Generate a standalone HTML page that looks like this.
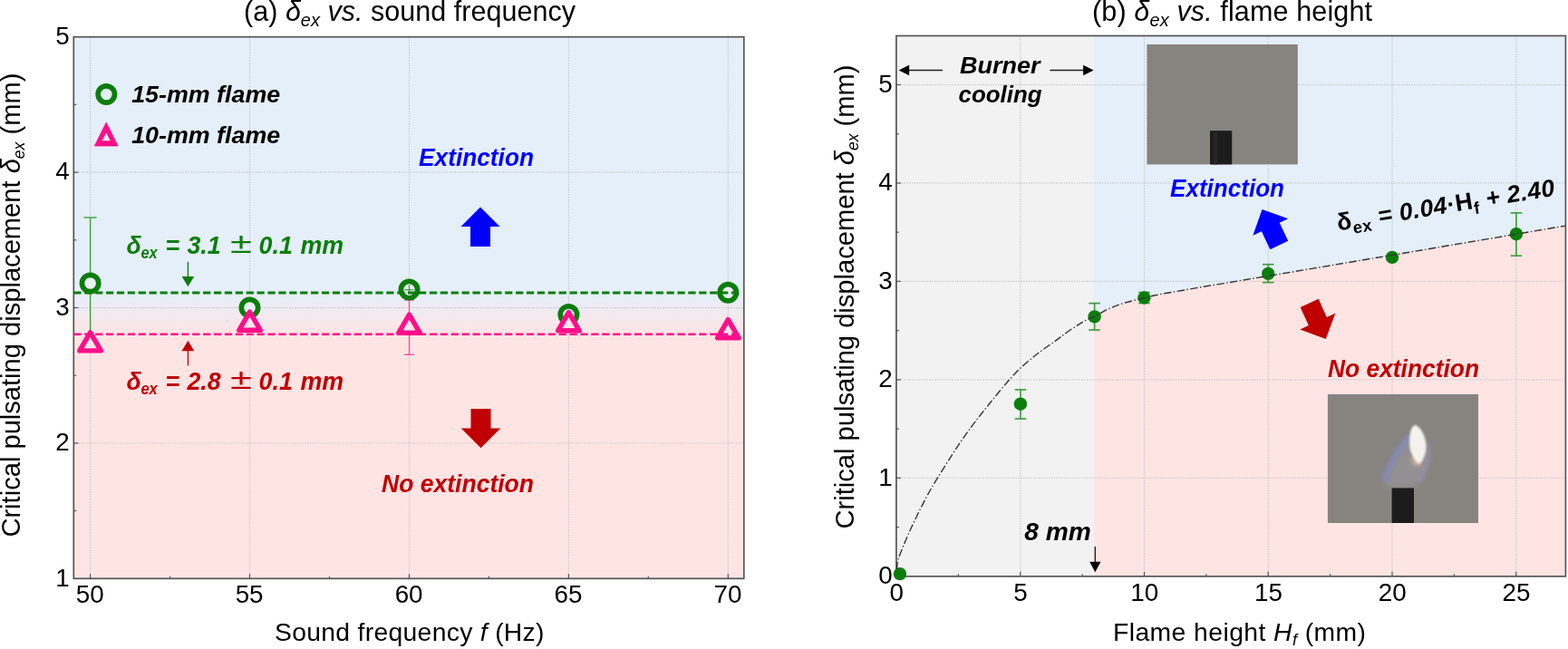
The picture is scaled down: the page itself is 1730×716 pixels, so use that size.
<!DOCTYPE html>
<html lang="en">
<head>
<meta charset="utf-8">
<title>Critical pulsating displacement</title>
<style>
html,body{margin:0;padding:0;background:#ffffff;}
body{width:1730px;height:716px;overflow:hidden;}
svg{display:block;filter:blur(0.45px);}
text{font-family:"Liberation Sans",sans-serif;fill:#000;}
.bi{font-weight:bold;font-style:italic;}
.b{font-weight:bold;}
.i{font-style:italic;}
</style>
</head>
<body>
<svg width="1730" height="716" viewBox="0 0 1730 716">
<defs>
<linearGradient id="gA" x1="0" y1="0" x2="0" y2="1">
<stop offset="0" stop-color="#e5eff9"/>
<stop offset="0.475" stop-color="#e5eff9"/>
<stop offset="0.55" stop-color="#ffe4e4"/>
<stop offset="1" stop-color="#ffe4e4"/>
</linearGradient>
<filter id="blur1" x="-20%" y="-20%" width="140%" height="140%"><feGaussianBlur stdDeviation="0.7"/></filter>
<filter id="blur2" x="-50%" y="-50%" width="200%" height="200%"><feGaussianBlur stdDeviation="2"/></filter>
<filter id="blur15" x="-50%" y="-50%" width="200%" height="200%"><feGaussianBlur stdDeviation="1.3"/></filter>
<filter id="blur3" x="-50%" y="-50%" width="200%" height="200%"><feGaussianBlur stdDeviation="3.5"/></filter>
<clipPath id="clipB"><rect x="988.9" y="39.5" width="738.5000000000001" height="596.35"/></clipPath>
<clipPath id="clipP2"><rect x="1464.7" y="434.7" width="166.3" height="142.4"/></clipPath>
</defs>

<g id="panelA">
<rect x="81.3" y="40.7" width="739.5" height="597.5999999999999" fill="url(#gA)"/>
<line x1="99.6" y1="40.7" x2="99.6" y2="638.3" stroke="#b8b8b8" stroke-width="0.9" stroke-dasharray="1.6 1.2" stroke-opacity="0.8"/>
<line x1="275.5" y1="40.7" x2="275.5" y2="638.3" stroke="#b8b8b8" stroke-width="0.9" stroke-dasharray="1.6 1.2" stroke-opacity="0.8"/>
<line x1="451.5" y1="40.7" x2="451.5" y2="638.3" stroke="#b8b8b8" stroke-width="0.9" stroke-dasharray="1.6 1.2" stroke-opacity="0.8"/>
<line x1="627.4" y1="40.7" x2="627.4" y2="638.3" stroke="#b8b8b8" stroke-width="0.9" stroke-dasharray="1.6 1.2" stroke-opacity="0.8"/>
<line x1="803.3" y1="40.7" x2="803.3" y2="638.3" stroke="#b8b8b8" stroke-width="0.9" stroke-dasharray="1.6 1.2" stroke-opacity="0.8"/>
<line x1="81.3" y1="488.9" x2="820.8" y2="488.9" stroke="#b8b8b8" stroke-width="0.9" stroke-dasharray="1.6 1.2" stroke-opacity="0.8"/>
<line x1="81.3" y1="339.5" x2="820.8" y2="339.5" stroke="#b8b8b8" stroke-width="0.9" stroke-dasharray="1.6 1.2" stroke-opacity="0.8"/>
<line x1="81.3" y1="190.1" x2="820.8" y2="190.1" stroke="#b8b8b8" stroke-width="0.9" stroke-dasharray="1.6 1.2" stroke-opacity="0.8"/>
<line x1="99.6" y1="638.3" x2="99.6" y2="633.3" stroke="#555555" stroke-width="1.2"/>
<line x1="275.5" y1="638.3" x2="275.5" y2="633.3" stroke="#555555" stroke-width="1.2"/>
<line x1="451.5" y1="638.3" x2="451.5" y2="633.3" stroke="#555555" stroke-width="1.2"/>
<line x1="627.4" y1="638.3" x2="627.4" y2="633.3" stroke="#555555" stroke-width="1.2"/>
<line x1="803.3" y1="638.3" x2="803.3" y2="633.3" stroke="#555555" stroke-width="1.2"/>
<line x1="187.6" y1="638.3" x2="187.6" y2="635.8" stroke="#555555" stroke-width="1.2"/>
<line x1="363.5" y1="638.3" x2="363.5" y2="635.8" stroke="#555555" stroke-width="1.2"/>
<line x1="539.4" y1="638.3" x2="539.4" y2="635.8" stroke="#555555" stroke-width="1.2"/>
<line x1="715.3" y1="638.3" x2="715.3" y2="635.8" stroke="#555555" stroke-width="1.2"/>
<line x1="81.3" y1="488.9" x2="86.3" y2="488.9" stroke="#555555" stroke-width="1.2"/>
<line x1="81.3" y1="339.5" x2="86.3" y2="339.5" stroke="#555555" stroke-width="1.2"/>
<line x1="81.3" y1="190.1" x2="86.3" y2="190.1" stroke="#555555" stroke-width="1.2"/>
<line x1="81.3" y1="563.6" x2="84.3" y2="563.6" stroke="#555555" stroke-width="1.2"/>
<line x1="81.3" y1="414.2" x2="84.3" y2="414.2" stroke="#555555" stroke-width="1.2"/>
<line x1="81.3" y1="264.8" x2="84.3" y2="264.8" stroke="#555555" stroke-width="1.2"/>
<line x1="81.3" y1="115.4" x2="84.3" y2="115.4" stroke="#555555" stroke-width="1.2"/>
<rect x="81.3" y="40.7" width="739.5" height="597.5999999999999" fill="none" stroke="#555555" stroke-width="1.7"/>
<line x1="99.6" y1="240.0" x2="99.6" y2="372.0" stroke="#3f9f3f" stroke-width="1.4"/><line x1="92.6" y1="240.0" x2="106.6" y2="240.0" stroke="#3f9f3f" stroke-width="1.4"/>
<line x1="451.5" y1="331.0" x2="451.5" y2="391.3" stroke="#ff4fa8" stroke-width="1.4"/><line x1="446.0" y1="331.0" x2="457.0" y2="331.0" stroke="#ff4fa8" stroke-width="1.4"/><line x1="446.0" y1="391.3" x2="457.0" y2="391.3" stroke="#ff4fa8" stroke-width="1.4"/>
<circle cx="99.6" cy="312.5" r="9.15" fill="#e9f0f6" stroke="#0b7d0b" stroke-width="5.7"/>
<circle cx="275.5" cy="339.5" r="9.15" fill="#e9f0f6" stroke="#0b7d0b" stroke-width="5.7"/>
<circle cx="451.5" cy="319.6" r="9.15" fill="#e9f0f6" stroke="#0b7d0b" stroke-width="5.7"/>
<path d="M451.5 314.6 V324.6 M446.5 319.6 H456.5" stroke="#3f9f3f" stroke-width="1.3" fill="none"/>
<circle cx="627.4" cy="347" r="9.15" fill="#e9f0f6" stroke="#0b7d0b" stroke-width="5.7"/>
<circle cx="803.3" cy="322.8" r="9.15" fill="#e9f0f6" stroke="#0b7d0b" stroke-width="5.7"/>
<path d="M99.6 366.8 L111.4 386.9 L87.8 386.9 Z" fill="#fbe6ea" stroke="#ff0f8a" stroke-width="5.4" stroke-linejoin="round"/>
<path d="M275.5 344.2 L287.3 364.3 L263.7 364.3 Z" fill="#fbe6ea" stroke="#ff0f8a" stroke-width="5.4" stroke-linejoin="round"/>
<path d="M451.5 347.2 L463.3 367.3 L439.7 367.3 Z" fill="#fbe6ea" stroke="#ff0f8a" stroke-width="5.4" stroke-linejoin="round"/>
<path d="M627.4 344.7 L639.2 364.8 L615.6 364.8 Z" fill="#fbe6ea" stroke="#ff0f8a" stroke-width="5.4" stroke-linejoin="round"/>
<path d="M803.3 352.7 L815.1 372.8 L791.5 372.8 Z" fill="#fbe6ea" stroke="#ff0f8a" stroke-width="5.4" stroke-linejoin="round"/>
<line x1="81.3" y1="323.1" x2="818.8" y2="323.1" stroke="#0b7d0b" stroke-width="3" stroke-dasharray="8.3 3.595"/>
<line x1="81.3" y1="368.8" x2="818.8" y2="368.8" stroke="#ff0f8a" stroke-width="2.6" stroke-dasharray="8.3 3.595"/>
<circle cx="117.3" cy="104" r="9.15" fill="none" stroke="#0b7d0b" stroke-width="5.7"/>
<path fill-rule="evenodd" d="M117.2 135.1 L130.1 161.0 L104.3 161.0 Z M117.2 145.7 L112.2 155.7 L122.2 155.7 Z" fill="#ff0f8a" stroke="#ff0f8a" stroke-width="0.8" stroke-linejoin="round"/>
<text class="bi" x="145.2" y="113.3" font-size="26.4" textLength="164" lengthAdjust="spacingAndGlyphs">15-mm flame</text>
<text class="bi" x="145.2" y="158.3" font-size="26.4" textLength="164" lengthAdjust="spacingAndGlyphs">10-mm flame</text>
<text class="bi" x="462" y="183.1" font-size="27" style="fill:#0000ff" textLength="127" lengthAdjust="spacingAndGlyphs">Extinction</text>
<text class="bi" x="421" y="542.5" font-size="27" style="fill:#c00000" textLength="168" lengthAdjust="spacingAndGlyphs">No extinction</text>
<path d="M530 228.5 L551.5 250 L541 250 L541 272 L519 272 L519 250 L508.5 250 Z" fill="#0000ff"/>
<path d="M530.5 494.3 L552.3 472.5 L541.5 472.5 L541.5 451 L519.5 451 L519.5 472.5 L508.7 472.5 Z" fill="#c00000"/>
<text class="bi" y="280" font-size="26.8" style="fill:#0b7d0b"><tspan x="139.6">δ</tspan><tspan x="155.4" dy="5.3" font-size="18.5" textLength="18.3" lengthAdjust="spacingAndGlyphs">ex</tspan><tspan x="182.6" dy="-5.3">=</tspan><tspan x="206.4">3.1</tspan><tspan x="254" font-size="31" dy="-1" style="font-weight:normal;font-style:italic" textLength="24" lengthAdjust="spacingAndGlyphs">±</tspan><tspan x="285.6" dy="1">0.1</tspan><tspan x="331.5">mm</tspan></text>
<text class="bi" y="430" font-size="26.8" style="fill:#c00000"><tspan x="139.6">δ</tspan><tspan x="155.4" dy="5.3" font-size="18.5" textLength="18.3" lengthAdjust="spacingAndGlyphs">ex</tspan><tspan x="182.6" dy="-5.3">=</tspan><tspan x="206.4">2.8</tspan><tspan x="254" font-size="31" dy="-1" style="font-weight:normal;font-style:italic" textLength="24" lengthAdjust="spacingAndGlyphs">±</tspan><tspan x="285.6" dy="1">0.1</tspan><tspan x="331.5">mm</tspan></text>
<line x1="207.4" y1="288.8" x2="207.4" y2="306" stroke="#0b7d0b" stroke-width="1.3"/><path d="M200.6 304.9 L214.2 304.9 L207.4 316.3 Z" fill="#0b7d0b"/>
<line x1="207.4" y1="386" x2="207.4" y2="403.5" stroke="#c00000" stroke-width="1.3"/><path d="M200.6 387.3 L214.2 387.3 L207.4 375.8 Z" fill="#c00000"/>
<text x="99.2" y="664.9" font-size="27.8" text-anchor="middle">50</text>
<text x="275.1" y="664.9" font-size="27.8" text-anchor="middle">55</text>
<text x="451.1" y="664.9" font-size="27.8" text-anchor="middle">60</text>
<text x="627.0" y="664.9" font-size="27.8" text-anchor="middle">65</text>
<text x="802.9" y="664.9" font-size="27.8" text-anchor="middle">70</text>
<text x="76.6" y="647.3" font-size="27.8" text-anchor="end">1</text>
<text x="76.6" y="497.4" font-size="27.8" text-anchor="end">2</text>
<text x="76.6" y="347.7" font-size="27.8" text-anchor="end">3</text>
<text x="76.6" y="198.0" font-size="27.8" text-anchor="end">4</text>
<text x="76.6" y="48.8" font-size="27.8" text-anchor="end">5</text>
<text x="303" y="707.4" font-size="28.3" textLength="297.5" lengthAdjust="spacing">Sound frequency <tspan class="i">f</tspan> (Hz)</text>
<text x="269" y="23" font-size="30.5" textLength="366" lengthAdjust="spacing">(a) <tspan class="i">δ<tspan font-size="20" dy="6">ex</tspan><tspan dy="-6"> vs.</tspan></tspan> sound frequency</text>
<text transform="translate(22.4 592.6) rotate(-90)" font-size="29.8" textLength="512" lengthAdjust="spacingAndGlyphs">Critical pulsating displacement <tspan class="i">δ<tspan font-size="18" dy="5">ex</tspan></tspan><tspan dy="-5"> (mm)</tspan></text>
</g>
<g id="panelB">
<rect x="988.9" y="39.5" width="218.1" height="596.35" fill="#f2f2f2"/>
<rect x="1207.0" y="39.5" width="520.4" height="596.35" fill="#e5eff9"/>
<path d="M1207.0 349.3 L1208.1 348.8 C1210.6 347.4 1217.7 343.1 1223.1 340.7 C1228.5 338.3 1234.0 336.3 1240.5 334.3 C1247.0 332.3 1255.7 330.2 1262.4 328.6 C1269.1 327.0 1274.0 325.9 1280.9 324.5 C1287.8 323.1 1296.3 321.9 1304.0 320.5 C1311.7 319.1 1319.5 317.7 1327.2 316.4 C1334.9 315.1 1342.6 313.9 1350.3 312.6 C1358.0 311.3 1365.7 310.0 1373.4 308.7 C1381.1 307.4 1383.7 307.0 1396.5 304.9 C1409.3 302.8 1426.8 299.8 1450.0 295.9 C1473.2 292.0 1511.0 285.6 1536.0 281.4 C1561.0 277.2 1577.2 274.5 1600.0 270.6 C1622.8 266.8 1651.7 261.9 1672.9 258.3 C1694.1 254.7 1718.3 250.6 1727.4 249.1 L1727.4 635.85 L1207.0 635.85 Z" fill="#ffe4e4"/>
<line x1="1125.8" y1="39.5" x2="1125.8" y2="635.85" stroke="#b8b8b8" stroke-width="0.9" stroke-dasharray="1.6 1.2" stroke-opacity="0.8"/>
<line x1="1262.5" y1="39.5" x2="1262.5" y2="635.85" stroke="#b8b8b8" stroke-width="0.9" stroke-dasharray="1.6 1.2" stroke-opacity="0.8"/>
<line x1="1399.2" y1="39.5" x2="1399.2" y2="635.85" stroke="#b8b8b8" stroke-width="0.9" stroke-dasharray="1.6 1.2" stroke-opacity="0.8"/>
<line x1="1536.0" y1="39.5" x2="1536.0" y2="635.85" stroke="#b8b8b8" stroke-width="0.9" stroke-dasharray="1.6 1.2" stroke-opacity="0.8"/>
<line x1="1672.8" y1="39.5" x2="1672.8" y2="635.85" stroke="#b8b8b8" stroke-width="0.9" stroke-dasharray="1.6 1.2" stroke-opacity="0.8"/>
<line x1="988.9" y1="527.3" x2="1727.4" y2="527.3" stroke="#b8b8b8" stroke-width="0.9" stroke-dasharray="1.6 1.2" stroke-opacity="0.8"/>
<line x1="988.9" y1="418.9" x2="1727.4" y2="418.9" stroke="#b8b8b8" stroke-width="0.9" stroke-dasharray="1.6 1.2" stroke-opacity="0.8"/>
<line x1="988.9" y1="310.4" x2="1727.4" y2="310.4" stroke="#b8b8b8" stroke-width="0.9" stroke-dasharray="1.6 1.2" stroke-opacity="0.8"/>
<line x1="988.9" y1="202.0" x2="1727.4" y2="202.0" stroke="#b8b8b8" stroke-width="0.9" stroke-dasharray="1.6 1.2" stroke-opacity="0.8"/>
<line x1="988.9" y1="93.5" x2="1727.4" y2="93.5" stroke="#b8b8b8" stroke-width="0.9" stroke-dasharray="1.6 1.2" stroke-opacity="0.8"/>
<line x1="1125.8" y1="635.85" x2="1125.8" y2="630.85" stroke="#555555" stroke-width="1.2"/>
<line x1="1262.5" y1="635.85" x2="1262.5" y2="630.85" stroke="#555555" stroke-width="1.2"/>
<line x1="1399.2" y1="635.85" x2="1399.2" y2="630.85" stroke="#555555" stroke-width="1.2"/>
<line x1="1536.0" y1="635.85" x2="1536.0" y2="630.85" stroke="#555555" stroke-width="1.2"/>
<line x1="1672.8" y1="635.85" x2="1672.8" y2="630.85" stroke="#555555" stroke-width="1.2"/>
<line x1="1057.4" y1="635.85" x2="1057.4" y2="633.35" stroke="#555555" stroke-width="1.2"/>
<line x1="1194.1" y1="635.85" x2="1194.1" y2="633.35" stroke="#555555" stroke-width="1.2"/>
<line x1="1330.9" y1="635.85" x2="1330.9" y2="633.35" stroke="#555555" stroke-width="1.2"/>
<line x1="1467.6" y1="635.85" x2="1467.6" y2="633.35" stroke="#555555" stroke-width="1.2"/>
<line x1="1604.4" y1="635.85" x2="1604.4" y2="633.35" stroke="#555555" stroke-width="1.2"/>
<line x1="988.9" y1="527.3" x2="993.9" y2="527.3" stroke="#555555" stroke-width="1.2"/>
<line x1="988.9" y1="418.9" x2="993.9" y2="418.9" stroke="#555555" stroke-width="1.2"/>
<line x1="988.9" y1="310.4" x2="993.9" y2="310.4" stroke="#555555" stroke-width="1.2"/>
<line x1="988.9" y1="202.0" x2="993.9" y2="202.0" stroke="#555555" stroke-width="1.2"/>
<line x1="988.9" y1="93.5" x2="993.9" y2="93.5" stroke="#555555" stroke-width="1.2"/>
<line x1="988.9" y1="581.6" x2="991.9" y2="581.6" stroke="#555555" stroke-width="1.2"/>
<line x1="988.9" y1="473.1" x2="991.9" y2="473.1" stroke="#555555" stroke-width="1.2"/>
<line x1="988.9" y1="364.7" x2="991.9" y2="364.7" stroke="#555555" stroke-width="1.2"/>
<line x1="988.9" y1="256.2" x2="991.9" y2="256.2" stroke="#555555" stroke-width="1.2"/>
<line x1="988.9" y1="147.8" x2="991.9" y2="147.8" stroke="#555555" stroke-width="1.2"/>
<rect x="988.9" y="39.5" width="738.5" height="596.35" fill="none" stroke="#555555" stroke-width="1.7"/>
<g id="photo1"><rect x="1265.4" y="49" width="166.4" height="132.4" fill="#878480"/><rect x="1335" y="144.2" width="24.2" height="37.2" fill="#1b1b1b" filter="url(#blur1)"/><rect x="1338.5" y="146" width="5" height="35.4" fill="#272727" filter="url(#blur1)"/></g>
<g id="photo2" clip-path="url(#clipP2)"><rect x="1464.7" y="434.7" width="166.3" height="142.4" fill="#878480"/><path d="M1527 533 C1534 511 1547 491 1556 480 L1574 494 C1579 510 1571 527 1562 537 L1532 538 Z" fill="#9c9aa3" opacity="0.55" filter="url(#blur3)"/><path d="M1526.5 531.5 C1530 518 1540 499 1554.5 481" fill="none" stroke="#7d8ee0" stroke-width="4" opacity="0.75" filter="url(#blur2)"/><path d="M1575.5 488 C1577.5 505 1572 520 1566 531" fill="none" stroke="#9a9ad4" stroke-width="3" opacity="0.5" filter="url(#blur2)"/><ellipse cx="1563" cy="508" rx="5.5" ry="6" fill="#e3b594" opacity="0.75" filter="url(#blur2)"/><path d="M1560.8 469 C1566 469 1573 480 1573.5 492 C1573.5 502 1569 510 1565.5 512 C1560 508 1555 498 1555 488 C1555 478 1557 471 1560.8 469 Z" fill="#f5f2ee" filter="url(#blur15)"/><rect x="1535.6" y="538.4" width="24.4" height="40" fill="#1b1b1b" filter="url(#blur1)"/></g>
<circle cx="992.9" cy="633.1" r="7.2" fill="#0b7d0b"/>
<line x1="1125.9" y1="429.9" x2="1125.9" y2="462.0" stroke="#3f9f3f" stroke-width="1.7"/><line x1="1119.7" y1="429.9" x2="1132.2" y2="429.9" stroke="#3f9f3f" stroke-width="1.7"/><line x1="1119.7" y1="462.0" x2="1132.2" y2="462.0" stroke="#3f9f3f" stroke-width="1.7"/>
<circle cx="1125.9" cy="445.7" r="7.2" fill="#0b7d0b"/>
<line x1="1207.6" y1="334.6" x2="1207.6" y2="364.0" stroke="#3f9f3f" stroke-width="1.7"/><line x1="1201.3" y1="334.6" x2="1213.8" y2="334.6" stroke="#3f9f3f" stroke-width="1.7"/><line x1="1201.3" y1="364.0" x2="1213.8" y2="364.0" stroke="#3f9f3f" stroke-width="1.7"/>
<circle cx="1207.6" cy="349.4" r="7.2" fill="#0b7d0b"/>
<line x1="1262.4" y1="322.5" x2="1262.4" y2="334.5" stroke="#3f9f3f" stroke-width="1.7"/><line x1="1256.2" y1="322.5" x2="1268.7" y2="322.5" stroke="#3f9f3f" stroke-width="1.7"/><line x1="1256.2" y1="334.5" x2="1268.7" y2="334.5" stroke="#3f9f3f" stroke-width="1.7"/>
<circle cx="1262.4" cy="328.5" r="7.2" fill="#0b7d0b"/>
<line x1="1399.2" y1="291.7" x2="1399.2" y2="311.6" stroke="#3f9f3f" stroke-width="1.7"/><line x1="1393.0" y1="291.7" x2="1405.5" y2="291.7" stroke="#3f9f3f" stroke-width="1.7"/><line x1="1393.0" y1="311.6" x2="1405.5" y2="311.6" stroke="#3f9f3f" stroke-width="1.7"/>
<circle cx="1399.2" cy="301.9" r="7.2" fill="#0b7d0b"/>
<circle cx="1536.0" cy="283.9" r="7.2" fill="#0b7d0b"/>
<line x1="1672.9" y1="234.9" x2="1672.9" y2="282.2" stroke="#3f9f3f" stroke-width="1.7"/><line x1="1666.7" y1="234.9" x2="1679.2" y2="234.9" stroke="#3f9f3f" stroke-width="1.7"/><line x1="1666.7" y1="282.2" x2="1679.2" y2="282.2" stroke="#3f9f3f" stroke-width="1.7"/>
<circle cx="1672.9" cy="258.2" r="7.2" fill="#0b7d0b"/>
<path d="M989.6 628.0 C989.8 626.5 989.4 623.1 990.6 618.8 C991.8 614.5 993.9 609.0 996.8 602.0 C999.7 595.0 1003.7 585.8 1007.9 576.9 C1012.1 568.0 1017.5 557.2 1021.9 548.9 C1026.3 540.6 1029.8 534.9 1034.5 527.2 C1039.2 519.5 1044.9 510.4 1049.8 502.8 C1054.7 495.2 1059.1 488.5 1063.8 481.9 C1068.5 475.2 1073.1 469.0 1077.8 462.9 C1082.5 456.8 1087.0 451.2 1092.0 445.0 C1097.0 438.8 1102.5 431.9 1108.0 425.5 C1113.5 419.1 1119.0 412.7 1125.2 406.8 C1131.4 400.9 1138.3 395.2 1145.0 390.0 C1151.7 384.8 1159.9 379.4 1165.4 375.4 C1170.9 371.4 1173.8 368.9 1178.0 366.0 C1182.2 363.1 1186.8 360.1 1190.5 357.8 C1194.2 355.5 1197.1 353.8 1200.0 352.3 C1202.9 350.8 1204.2 350.7 1208.1 348.8 C1211.9 346.9 1217.7 343.1 1223.1 340.7 C1228.5 338.3 1234.0 336.3 1240.5 334.3 C1247.0 332.3 1255.7 330.2 1262.4 328.6 C1269.1 327.0 1274.0 325.9 1280.9 324.5 C1287.8 323.1 1296.3 321.9 1304.0 320.5 C1311.7 319.1 1319.5 317.7 1327.2 316.4 C1334.9 315.1 1342.6 313.9 1350.3 312.6 C1358.0 311.3 1365.7 310.0 1373.4 308.7 C1381.1 307.4 1383.7 307.0 1396.5 304.9 C1409.3 302.8 1426.8 299.8 1450.0 295.9 C1473.2 292.0 1511.0 285.6 1536.0 281.4 C1561.0 277.2 1577.2 274.5 1600.0 270.6 C1622.8 266.8 1651.7 261.9 1672.9 258.3 C1694.1 254.7 1718.3 250.6 1727.4 249.1" fill="none" stroke="#333" stroke-width="1.4" stroke-dasharray="8.4 2.5 1.4 2.5" clip-path="url(#clipB)"/>
<text class="bi" x="1059" y="81.2" font-size="26.6" textLength="88.5" lengthAdjust="spacingAndGlyphs">Burner</text>
<text class="bi" x="1057.5" y="113" font-size="25.8" textLength="92" lengthAdjust="spacingAndGlyphs">cooling</text>
<line x1="999.6" y1="77.5" x2="1040" y2="77.5" stroke="#222" stroke-width="1.5"/><path d="M991.6 77.5 L1003.1 71.7 L1003.1 83.3 Z" fill="#000"/>
<line x1="1158.5" y1="77.5" x2="1198.6" y2="77.5" stroke="#222" stroke-width="1.5"/><path d="M1206.6 77.5 L1195.1 71.7 L1195.1 83.3 Z" fill="#000"/>
<text class="bi" x="1291" y="217.4" font-size="27" style="fill:#0000ff" textLength="126" lengthAdjust="spacingAndGlyphs">Extinction</text>
<text class="bi" x="1465" y="416.3" font-size="27" style="fill:#c00000" textLength="167" lengthAdjust="spacingAndGlyphs">No extinction</text>
<g transform="translate(1401.9 250.8) rotate(-25.5)"><path d="M0 -21.8 L21.5 -0.3 L11 -0.3 L11 21.8 L-11 21.8 L-11 -0.3 L-21.5 -0.3 Z" fill="#0000ff"/></g>
<g transform="translate(1453.7 354.2) rotate(-24.5)"><path d="M0 21.8 L21.5 0.3 L11 0.3 L11 -21.8 L-11 -21.8 L-11 0.3 L-21.5 0.3 Z" fill="#c00000"/></g>
<text class="b" transform="translate(1476.5 254.5) rotate(-9.2)" font-size="26.5" textLength="243" lengthAdjust="spacing">δ<tspan font-size="18.5" dy="6">ex</tspan><tspan dy="-6" class="bi"> = 0.04</tspan>·H<tspan font-size="18.5" dy="6">f</tspan><tspan dy="-6" class="bi"> + 2.40</tspan></text>
<text class="bi" x="1130.3" y="596.2" font-size="28" textLength="73.5" lengthAdjust="spacingAndGlyphs">8 mm</text>
<line x1="1208.3" y1="603" x2="1208.3" y2="622" stroke="#222" stroke-width="1.4"/><path d="M1202.2 619.8 L1214.4 619.8 L1208.3 631.2 Z" fill="#000"/>
<text x="989.3" y="663.2" font-size="27.8" text-anchor="middle">0</text>
<text x="1126.0" y="663.2" font-size="27.8" text-anchor="middle">5</text>
<text x="1262.8" y="663.2" font-size="27.8" text-anchor="middle">10</text>
<text x="1399.5" y="663.2" font-size="27.8" text-anchor="middle">15</text>
<text x="1536.3" y="663.2" font-size="27.8" text-anchor="middle">20</text>
<text x="1673.0" y="663.2" font-size="27.8" text-anchor="middle">25</text>
<text x="984.6" y="644.1" font-size="27.8" text-anchor="end">0</text>
<text x="984.6" y="535.6" font-size="27.8" text-anchor="end">1</text>
<text x="984.6" y="427.2" font-size="27.8" text-anchor="end">2</text>
<text x="984.6" y="318.7" font-size="27.8" text-anchor="end">3</text>
<text x="984.6" y="210.3" font-size="27.8" text-anchor="end">4</text>
<text x="984.6" y="101.8" font-size="27.8" text-anchor="end">5</text>
<text x="1228" y="707.4" font-size="28.3" textLength="279" lengthAdjust="spacing">Flame height <tspan class="i">H<tspan font-size="18" dy="5">f</tspan></tspan><tspan dy="-5"> (mm)</tspan></text>
<text x="1205" y="23" font-size="30.5" textLength="309" lengthAdjust="spacing">(b) <tspan class="i">δ<tspan font-size="20" dy="6">ex</tspan><tspan dy="-6"> vs.</tspan></tspan> flame height</text>
<text transform="translate(942.4 583.5) rotate(-90)" font-size="29.8" textLength="512" lengthAdjust="spacingAndGlyphs">Critical pulsating displacement <tspan class="i">δ<tspan font-size="18" dy="5">ex</tspan></tspan><tspan dy="-5"> (mm)</tspan></text>
</g>
</svg>
</body>
</html>
